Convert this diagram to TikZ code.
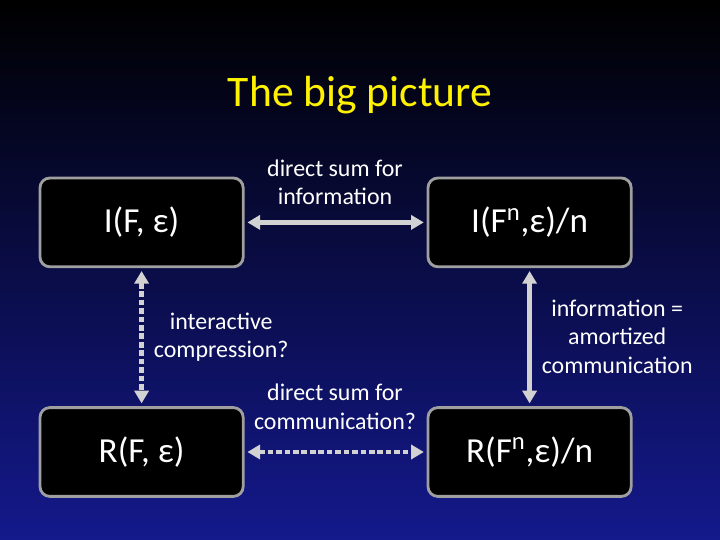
\documentclass[tikz,border=0pt]{standalone}
\usepackage{fontspec}
\setmainfont{Carlito}
\usetikzlibrary{arrows.meta, positioning}

\tikzset{
  box/.style = {draw = gray!75, line width = 2pt, fill = black, rounded corners = 7pt,
    minimum width = 5.08cm, minimum height = 2.22cm, text = white, font = \fontsize{25}{30}\selectfont},
  lbl/.style = {align = center, text = white, font = \fontsize{17}{20}\selectfont},
  link/.style = {{Triangle[length = 9pt, width = 10pt]}-{Triangle[length = 9pt, width = 10pt]},
    draw = gray!35, line width = 3pt, shorten < = 2pt, shorten > = 2pt},
  dashlink/.style = {link, dash pattern = on 4pt off 2pt}
}

\begin{document}
\begin{tikzpicture}
    \shade[top color = black, bottom color = {rgb,255:red,20;green,25;blue,140}] (0, 0) rectangle (18, 13.5);
    \useasboundingbox (0, 0) rectangle (18, 13.5);

    \node[text = yellow, font = \fontsize{31}{36}\selectfont] (title) at (9, 11.12) {The big picture};

    \node[box] (ife) at (3.54, 7.94) {I(F, ε)};
    \node[box] (ifn) at (13.24, 7.94) {I(F\textsuperscript{n},ε)/n};
    \node[box] (rfe) at (3.54, 2.2) {R(F, ε)};
    \node[box] (rfn) at (13.24, 2.2) {R(F\textsuperscript{n},ε)/n};

    \draw[link] (ife) -- (ifn);
    \draw[dashlink] (rfe) -- (rfn);
    \draw[dashlink] (ife) -- (rfe);
    \draw[link] (ifn) -- (rfn);

    \node[lbl] (l1) at (8.375, 8.95) {direct sum for\\information};
    \node[lbl] (l2) at (5.53, 5.08) {interactive\\compression?};
    \node[lbl] (l3) at (8.375, 3.33) {direct sum for\\communication?};
    \node[lbl] (l4) at (15.43, 5.08) {information =\\amortized\\communication};
\end{tikzpicture}
\end{document}
